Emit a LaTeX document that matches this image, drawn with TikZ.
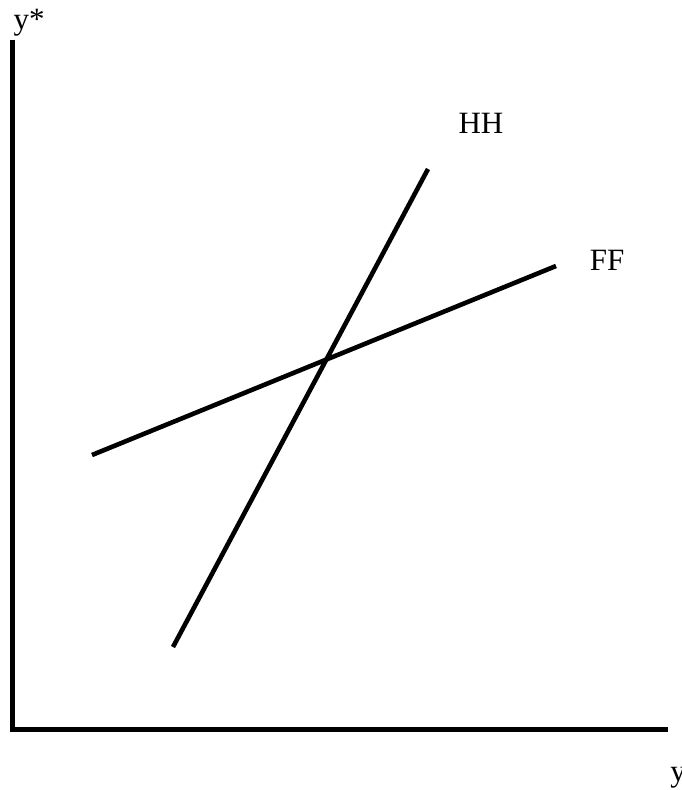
\documentclass[tikz,border=0pt]{standalone}
\usepackage{fontspec}
\setmainfont{Liberation Serif}
\begin{document}
\begin{tikzpicture}[x=1pt,y=-1pt,
  axis/.style={line width=5pt},
  curve/.style={line width=4.6pt},
  lbl/.style={anchor=base,inner sep=0pt,font=\fontsize{31}{36}\selectfont}]
\useasboundingbox (0,0) rectangle (682,790);
% axes
\coordinate (o) at (12,729);
\coordinate (ytop) at (12,40);
\coordinate (xend) at (668,729);
\draw[axis] (ytop) -- (o) -- (xend);
\node[lbl] (ystar) at (29,29) {y*};
\node[lbl] (ylab) at (678,781) {y};
% schedules
\coordinate (hh1) at (173,647);
\coordinate (hh2) at (428,169);
\coordinate (ff1) at (92,455);
\coordinate (ff2) at (556,266);
\draw[curve] (hh1) -- (hh2);
\draw[curve] (ff1) -- (ff2);
\node[lbl] (hh) at (481,133) {HH};
\node[lbl] (ff) at (607,270) {FF};
\end{tikzpicture}
\end{document}
